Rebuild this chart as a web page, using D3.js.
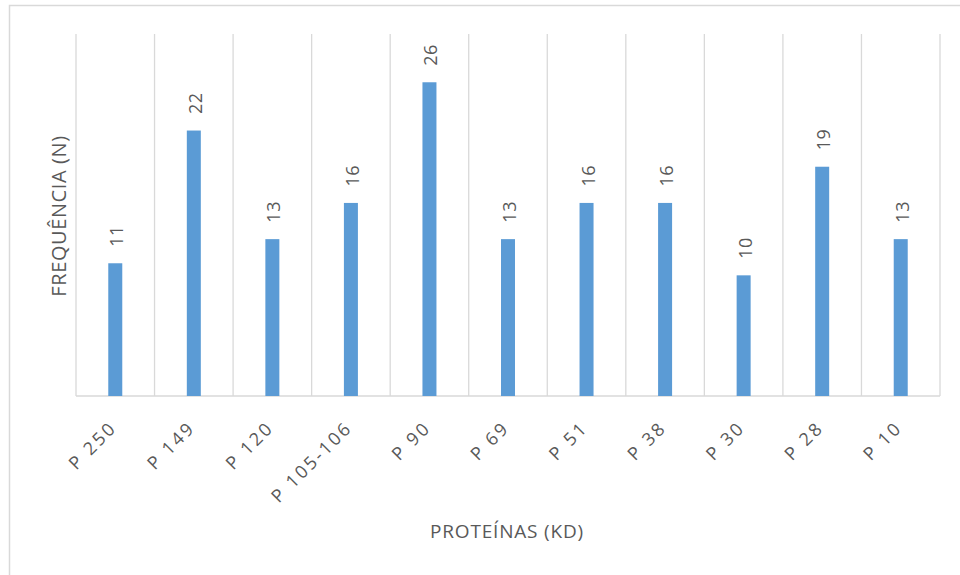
<!DOCTYPE html>
<html>
<head>
<meta charset="utf-8">
<script src="https://cdn.jsdelivr.net/npm/d3@7"></script>
<style>
  html, body { margin: 0; padding: 0; background: #fff; }
  svg { display: block; font-family: "Open Sans", "Noto Sans", sans-serif; }
</style>
</head>
<body>
<svg id="chart" width="960" height="575"></svg>
<script>
// Protein band frequencies
const categories = ["P 250", "P 149", "P 120", "P 105-106", "P 90", "P 69", "P 51", "P 38", "P 30", "P 28", "P 10"];
const values = [11, 22, 13, 16, 26, 13, 16, 16, 10, 19, 13];
const yMax = 30;
const xTitle = "PROTEÍNAS (KD)";
const yTitle = "FREQUÊNCIA (N)";

const svg = d3.select("#chart");
const W = 960, H = 575;
const plotLeft = 76, plotRight = 940, plotTop = 34, baseY = 396;

const textColor = "#595959";
const gridColor = "#D9D9D9";
const barColor = "#5B9BD5";

// outer frame (top and left edges visible)
svg.append("rect")
  .attr("x", 9.5).attr("y", 5.5)
  .attr("width", W).attr("height", H)
  .attr("fill", "none").attr("stroke", gridColor).attr("stroke-width", 1.5);

const x = d3.scaleBand().domain(categories).range([plotLeft, plotRight]).paddingInner(0).paddingOuter(0);
const y = d3.scaleLinear().domain([0, yMax]).range([baseY, plotTop]);
const cx = c => x(c) + x.bandwidth() / 2;

// vertical grid lines at category boundaries
const bounds = categories.map(c => x(c)).concat([plotRight]);
svg.append("g").selectAll("line").data(bounds).join("line")
  .attr("x1", d => d).attr("x2", d => d)
  .attr("y1", plotTop).attr("y2", baseY)
  .attr("stroke", gridColor).attr("stroke-width", 1.3);

// baseline
svg.append("line")
  .attr("x1", plotLeft).attr("x2", plotRight)
  .attr("y1", baseY).attr("y2", baseY)
  .attr("stroke", gridColor).attr("stroke-width", 1.5);

// bars
const barW = 14;
svg.append("g").selectAll("rect").data(values).join("rect")
  .attr("x", (d, i) => cx(categories[i]) - barW / 2)
  .attr("y", d => y(d))
  .attr("width", barW)
  .attr("height", d => baseY - y(d))
  .attr("fill", barColor);

// value labels, rotated
svg.append("g").selectAll("text").data(values).join("text")
  .attr("transform", (d, i) => `translate(${cx(categories[i]) + 8},${y(d) - 16.5}) rotate(-90)`)
  .attr("text-anchor", "start")
  .attr("font-size", 18)
  .attr("letter-spacing", 0.5)
  .attr("fill", textColor)
  .text(d => d);

// category labels at -45°
svg.append("g").selectAll("text").data(categories).join("text")
  .attr("transform", c => `translate(${cx(c) + 2.5},${baseY + 33}) rotate(-45)`)
  .attr("text-anchor", "end")
  .attr("font-size", 18)
  .attr("letter-spacing", 2.5)
  .attr("fill", textColor)
  .text(c => c);

// axis titles
svg.append("text")
  .attr("x", 507).attr("y", 538)
  .attr("text-anchor", "middle")
  .attr("font-size", 19)
  .attr("letter-spacing", 0.8)
  .attr("fill", textColor)
  .text(xTitle);

svg.append("text")
  .attr("transform", `translate(66,216) rotate(-90)`)
  .attr("text-anchor", "middle")
  .attr("font-size", 20)
  .attr("letter-spacing", 0.6)
  .attr("fill", textColor)
  .text(yTitle);
</script>
</body>
</html>
